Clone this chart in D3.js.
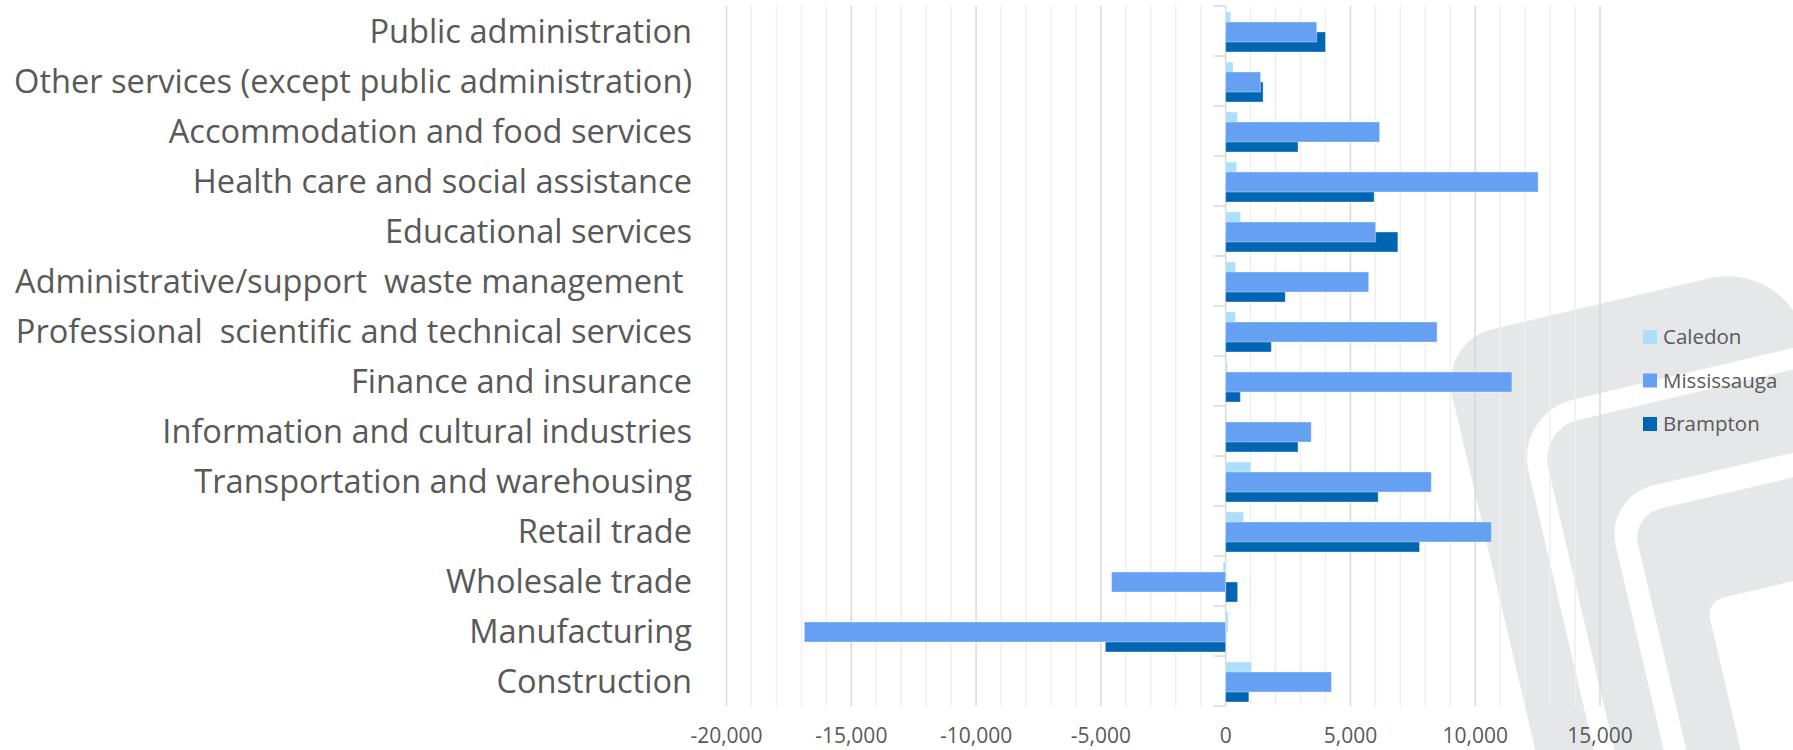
<!DOCTYPE html>
<html>
<head>
<meta charset="utf-8">
<script src="https://cdn.jsdelivr.net/npm/d3@7"></script>
<style>
  body { margin: 0; background: #fff; }
  svg { display: block; }
  text { font-family: "Open Sans", sans-serif; fill: #595959; }
</style>
</head>
<body>
<div id="chart"></div>
<script>
// Industries, top to bottom as in the chart
const categories = [
  "Public administration",
  "Other services (except public administration)",
  "Accommodation and food services",
  "Health care and social assistance",
  "Educational services",
  "Administrative/support  waste management ",
  "Professional  scientific and technical services",
  "Finance and insurance",
  "Information and cultural industries",
  "Transportation and warehousing",
  "Retail trade",
  "Wholesale trade",
  "Manufacturing",
  "Construction"
];

// Values
const caledon     = [200, 300, 480, 440, 600, 390, 390, 70, 0, 1010, 710, -100, 100, 1040];
const mississauga = [3650, 1400, 6170, 12520, 6010, 5730, 8470, 11470, 3430, 8240, 10650, -4570, -16880, 4240];
const brampton    = [4000, 1500, 2900, 5950, 6900, 2390, 1830, 590, 2900, 6110, 7770, 480, -4820, 930];

const seriesNames = ["Caledon", "Mississauga", "Brampton"];
const xTickValues = [-20000, -15000, -10000, -5000, 0, 5000, 10000, 15000];

const width = 1793, height = 750;
const colors = {Caledon: "#abdffd", Mississauga: "#66a0f2", Brampton: "#0066b4"};
const barOffset = {Caledon: 6, Mississauga: 16, Brampton: 26};
const barH = 20;

const svg = d3.select("#chart").append("svg")
  .attr("width", width)
  .attr("height", height);

// decorative background logo (nested rounded L shapes)
function topRounded(x, y, w, h, rtl, rtr) {
  return `M${x},${y + rtl} A${rtl},${rtl} 0 0 1 ${x + rtl},${y}` +
    ` L${x + w - rtr},${y}` +
    (rtr ? ` A${rtr},${rtr} 0 0 1 ${x + w},${y + rtr}` : "") +
    ` L${x + w},${y + h} L${x},${y + h} Z`;
}
const logo = svg.append("g")
  .attr("transform", "translate(1439.5,341.5) rotate(-13.2)");
const logoParts = [
  {x: 0,   y: 0,   w: 357, rtl: 55, rtr: 80, fill: "#e6e7e8"},
  {x: 57,  y: 87,  w: 700, rtl: 60, rtr: 0,  fill: "#ffffff"},
  {x: 77,  y: 108, w: 700, rtl: 40, rtr: 0,  fill: "#e6e7e8"},
  {x: 125, y: 189, w: 700, rtl: 50, rtr: 0,  fill: "#ffffff"},
  {x: 147, y: 213, w: 700, rtl: 30, rtr: 0,  fill: "#e6e7e8"},
  {x: 200, y: 314, w: 700, rtl: 18, rtr: 0,  fill: "#ffffff"}
];
logo.selectAll("path")
  .data(logoParts)
  .enter().append("path")
  .attr("d", d => topRounded(d.x, d.y, d.w, 900, d.rtl, d.rtr))
  .attr("fill", d => d.fill);

// scales
const x = d3.scaleLinear().domain([-20000, 15000]).range([726.5, 1600]);
const y = d3.scaleBand().domain(categories).range([6, 706]).padding(0);

// gridlines: minor every 1000, major every 5000
const minor = d3.range(-20000, 15001, 1000).filter(v => v % 5000 !== 0);
svg.append("g").selectAll("line")
  .data(minor)
  .enter().append("line")
  .attr("x1", d => x(d)).attr("x2", d => x(d))
  .attr("y1", 6).attr("y2", 706)
  .attr("stroke", "#efefef")
  .attr("stroke-width", 1.5);

svg.append("g").selectAll("line")
  .data(xTickValues.filter(v => v !== 0))
  .enter().append("line")
  .attr("x1", d => x(d)).attr("x2", d => x(d))
  .attr("y1", 6).attr("y2", 706)
  .attr("stroke", "#d9d9d9")
  .attr("stroke-width", 1.5);

// category axis at zero with ticks between bands
const bounds = categories.map(c => y(c)).concat([y.range()[1]]);
const yAxis = svg.append("g");
yAxis.append("line")
  .attr("x1", x(0)).attr("x2", x(0))
  .attr("y1", 6).attr("y2", 706)
  .attr("stroke", "#d9d9d9")
  .attr("stroke-width", 1.5);
yAxis.selectAll(".tick")
  .data(bounds)
  .enter().append("line")
  .attr("class", "tick")
  .attr("x1", x(0) - 12).attr("x2", x(0))
  .attr("y1", d => d).attr("y2", d => d)
  .attr("stroke", "#d9d9d9")
  .attr("stroke-width", 1.5);

// bars: Caledon and Brampton first, Mississauga on top
const series = {Caledon: caledon, Mississauga: mississauga, Brampton: brampton};
["Caledon", "Brampton", "Mississauga"].forEach(name => {
  svg.append("g").selectAll("rect")
    .data(series[name].map((v, i) => ({cat: categories[i], v: v})))
    .enter().append("rect")
    .attr("x", d => x(Math.min(0, d.v)))
    .attr("width", d => Math.abs(x(d.v) - x(0)))
    .attr("y", d => y(d.cat) + barOffset[name])
    .attr("height", barH)
    .attr("fill", colors[name])
    .attr("stroke", "#ffffff")
    .attr("stroke-opacity", 0.35)
    .attr("stroke-width", 1);
});

// category labels
svg.append("g").selectAll("text")
  .data(categories)
  .enter().append("text")
  .attr("x", 692)
  .attr("y", d => y(d) + y.bandwidth() / 2)
  .attr("dy", "0.36em")
  .attr("text-anchor", "end")
  .style("font-size", "32.6px")
  .style("white-space", "pre")
  .text(d => d);

// value axis labels
const fmt = d3.format(",");
svg.append("g").selectAll("text")
  .data(xTickValues)
  .enter().append("text")
  .attr("x", d => x(d))
  .attr("y", 735)
  .attr("dy", "0.36em")
  .attr("text-anchor", "middle")
  .style("font-size", "21px")
  .text(d => fmt(d).replace("\u2212", "-"));

// legend
const legend = svg.append("g").selectAll("g")
  .data(seriesNames)
  .enter().append("g")
  .attr("transform", (d, i) => `translate(1643, ${330 + i * 43.5})`);
legend.append("rect")
  .attr("width", 14).attr("height", 14)
  .attr("fill", d => colors[d]);
legend.append("text")
  .attr("x", 20)
  .attr("y", 7)
  .attr("dy", "0.36em")
  .style("font-size", "20.5px")
  .text(d => d);
</script>
</body>
</html>
